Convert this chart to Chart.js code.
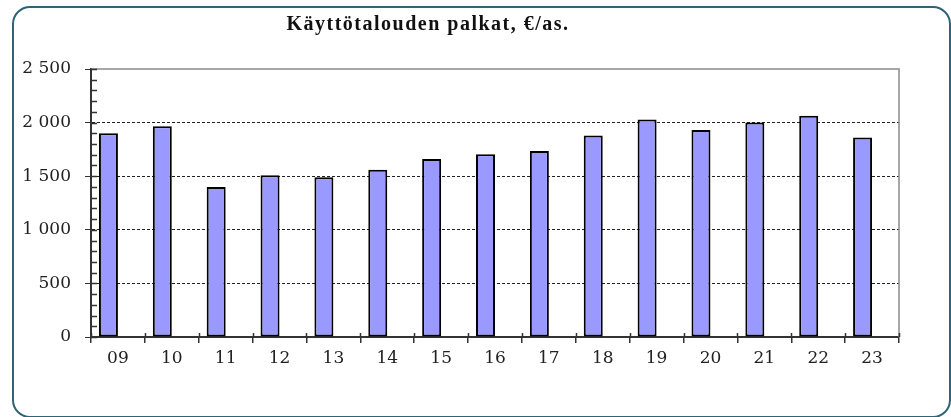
<!DOCTYPE html>
<html>
<head>
<meta charset="utf-8">
<script src="https://cdn.jsdelivr.net/npm/chart.js@4/dist/chart.umd.min.js"></script>
<style>
  html, body { margin: 0; padding: 0; background: #fff; }
  #wrap { position: relative; width: 951px; height: 417px; overflow: hidden; }
  #frame {
    position: absolute; left: 12px; top: 6px; width: 939px; height: 412px;
    border: 2px solid #2f6475; border-radius: 18px; box-sizing: border-box;
  }
  canvas { position: absolute; left: 0; top: 0; }
</style>
</head>
<body>
<div id="wrap">
  <div id="frame"></div>
  <canvas id="palkatChart" width="951" height="417"></canvas>
</div>
<script>
const chartTitle = "Käyttötalouden palkat, €/as.";
const years = ["09", "10", "11", "12", "13", "14", "15", "16", "17", "18", "19", "20", "21", "22", "23"];
const wages = [1900, 1965, 1400, 1510, 1490, 1560, 1660, 1705, 1735, 1880, 2030, 1930, 2000, 2065, 1860];
// empty second series, keeps the bars on the left half of each slot like the original
const spacer = years.map(() => null);

Chart.defaults.font.family = "DejaVu Serif";
Chart.defaults.font.size = 17;

// title, minor ticks and the gray plot border
const extras = {
  id: "extras",
  afterDraw(chart) {
    const c = chart.ctx;
    const area = chart.chartArea;
    const y = chart.scales.y;

    c.save();
    c.strokeStyle = "#8a8a8a";
    c.lineWidth = 1.5;
    c.beginPath();
    c.moveTo(area.left, area.top);
    c.lineTo(area.right, area.top);
    c.lineTo(area.right, area.bottom);
    c.stroke();

    c.strokeStyle = "#333";
    c.lineWidth = 1.5;
    c.beginPath();
    for (let v = 0; v <= 2500; v += 100) {
      const py = Math.round(y.getPixelForValue(v)) + 0.5;
      c.moveTo(area.left, py);
      c.lineTo(area.left + 6, py);
    }
    for (let i = 0; i <= years.length; i++) {
      const px = Math.round(area.left + (area.right - area.left) * i / years.length) + 0.5;
      c.moveTo(px, area.bottom - 4);
      c.lineTo(px, area.bottom);
    }
    c.stroke();

    c.fillStyle = "#111";
    c.font = "bold 20px 'Liberation Serif'";
    c.letterSpacing = "1.5px";
    c.textAlign = "center";
    c.textBaseline = "middle";
    c.fillText(chartTitle, 428, 25);
    c.restore();
  }
};

const ctx = document.getElementById("palkatChart").getContext("2d");

new Chart(ctx, {
  type: "bar",
  data: {
    labels: years,
    datasets: [
      {
        label: "Palkat",
        data: wages,
        backgroundColor: "#9999ff",
        borderColor: "#000",
        borderWidth: 2,
        borderSkipped: false,
        barPercentage: 1.0,
        categoryPercentage: 0.705,
      },
      {
        label: "",
        data: spacer,
        barPercentage: 1.0,
        categoryPercentage: 0.705,
      },
    ],
  },
  plugins: [extras],
  options: {
    responsive: false,
    animation: false,
    layout: { padding: { left: 0, right: 52, top: 69, bottom: 50 } },
    plugins: {
      legend: { display: false },
      tooltip: { enabled: false },
      title: { display: false },
    },
    scales: {
      x: {
        grid: {
          offset: true,
          drawOnChartArea: false,
          tickLength: 6,
          color: "#333",
          lineWidth: 1.5,
        },
        border: { color: "#333", width: 2 },
        ticks: {
          color: "#222",
          padding: 5,
          font: { family: "DejaVu Serif", size: 17 },
        },
        afterFit(scale) { scale.height = 30; },
      },
      y: {
        min: 0,
        max: 2500,
        ticks: {
          stepSize: 500,
          color: "#222",
          padding: 14,
          font: { family: "DejaVu Serif", size: 17 },
          callback: (v) => String(v).replace(/\B(?=(\d{3})+(?!\d))/g, " "),
        },
        grid: {
          color: (c) => (c.tick && c.tick.value === 2500 ? "rgba(0,0,0,0)" : "#222"),
          tickColor: "#333",
          lineWidth: 1,
          tickLength: 6,
        },
        border: { color: "#333", width: 2, dash: [3, 2] },
        afterFit(scale) { scale.width = 91; },
      },
    },
  },
});
</script>
</body>
</html>
